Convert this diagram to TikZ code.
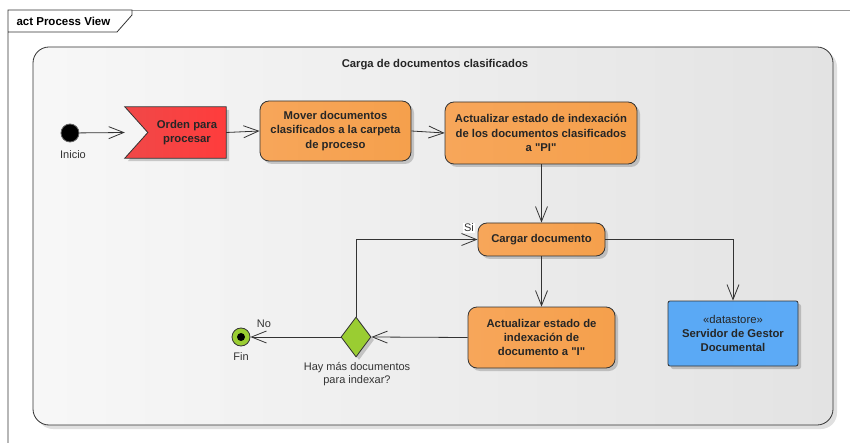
\documentclass[tikz,border=0pt]{standalone}
\usepackage{fontspec}
\setmainfont{Liberation Sans}
% same face without the TeX input mapping, so a straight double quote stays straight
\newfontfamily\plainquote{Liberation Sans}
\usetikzlibrary{arrows.meta,shapes.geometric,shadows,calc}

\definecolor{edge}{HTML}{333333}
\definecolor{orL}{HTML}{F7A65A}
\definecolor{orM}{HTML}{FBC893}
\definecolor{orR}{HTML}{F5A04C}
\definecolor{rdL}{HTML}{F04848}
\definecolor{rdM}{HTML}{FF7272}
\definecolor{rdR}{HTML}{FF3C3C}
\definecolor{blL}{HTML}{5AA9F5}
\definecolor{blM}{HTML}{A3D0FC}
\definecolor{blR}{HTML}{5CAAF6}
\definecolor{grnfill}{HTML}{9ACD32}

\newcommand{\dq}{{\plainquote\char34}}

\tikzset{
  x=1pt, y=-1pt,
  boldtxt/.style={font=\fontsize{11.3}{14.3}\selectfont\bfseries, align=center, text=black!85},
  plaintxt/.style={font=\fontsize{11}{13.5}\selectfont, align=center, text=black!80},
  softshadow/.style={drop shadow={shadow xshift=3pt, shadow yshift=-3pt, opacity=0.18, fill=black}},
  actionbox/.style={boldtxt, draw=edge, line width=0.8pt, rounded corners=9pt,
    left color=orL, middle color=orM, right color=orR, softshadow, inner sep=0pt},
  storebox/.style={boldtxt, draw=edge, line width=0.8pt, rounded corners=2pt,
    left color=blL, middle color=blM, right color=blR, softshadow, inner sep=0pt},
  flow/.style={draw=edge, line width=0.8pt, -{Straight Barb[length=15pt,width=12pt,line width=0.8pt]}},
}

\begin{document}
\begin{tikzpicture}
\useasboundingbox (0,0) rectangle (850,443);
\fill[white] (0,0) rectangle (850,443);

% diagram frame with its name tab
\draw[draw=gray!80, line width=0.8pt] (132,10) -- (850,10);
\draw[draw=edge, line width=0.8pt] (8,443) -- (8,10) -- (132,10) -- (132,15) -- (117,32) -- (8,32);
\node[anchor=west, font=\fontsize{11.5}{13}\selectfont\bfseries] (frametitle) at (13,21) {act Process View};

% activity region
\path[fill=black, opacity=0.12, rounded corners=16pt] (37,51) rectangle (837,429);
\path[left color=white!97!black, right color=black!11, draw=edge, line width=0.8pt, rounded corners=16pt]
  (33,47) rectangle (833,425);
\node[boldtxt] (regiontitle) at (435,65) {Carga de documentos clasificados};

% initial node
\node[circle, fill=black, draw=black!60, line width=0.8pt, minimum size=18pt, inner sep=0pt] (ini) at (70,133) {};
\node[plaintxt] (inilbl) at (73,155) {Inicio};

% signal receipt: outline drawn around the node's box, notch on the left
\node[minimum width=101pt, minimum height=51pt, inner sep=0pt] (orden) at (175.5,132.5) {};
\path[left color=rdL, middle color=rdM, right color=rdR, draw=edge, line width=0.8pt, softshadow]
  (orden.north west) -- (orden.north east) -- (orden.south east) -- (orden.south west)
  -- ($(orden.west)+(23,0)$) -- cycle;
\node[boldtxt] (ordentxt) at (187,132.5) {Orden para\\procesar};

% actions
\node[actionbox, minimum width=151pt, minimum height=60pt] (mover) at (335.5,131)
  {Mover documentos\\clasificados a la carpeta\\de proceso};
\node[actionbox, minimum width=192pt, minimum height=62pt] (actpi) at (541,133)
  {Actualizar estado de indexación\\de los documentos clasificados\\a \dq PI\dq};
\node[actionbox, minimum width=127pt, minimum height=33pt] (cargar) at (541.5,239.5)
  {Cargar documento};
\node[actionbox, minimum width=147pt, minimum height=61pt] (acti) at (541.5,337.5)
  {Actualizar estado de\\indexación de\\documento a \dq I\dq};

% datastore
\node[storebox, minimum width=130pt, minimum height=65pt] (ds) at (733,333.5)
  {{\mdseries «datastore»}\\Servidor de Gestor\\Documental};

% decision
\node[diamond, draw=edge, line width=0.8pt, fill=grnfill, minimum width=30pt, minimum height=40pt,
  inner sep=0pt, softshadow] (dec) at (356,337) {};
\node[plaintxt] (declbl) at (357,374) {Hay más documentos\\para indexar?};

% final node
\node[circle, fill=grnfill, draw=edge, line width=0.8pt, minimum size=18pt, inner sep=0pt] (fin) at (241,337) {};
\node[circle, fill=black, minimum size=8pt, inner sep=0pt] (fincore) at (fin.center) {};
\node[plaintxt] (finlbl) at (241,357) {Fin};

% flows
\draw[flow] (ini) -- (orden.west);
\draw[flow] (orden.east) -- (mover.west);
\draw[flow] (mover.east) -- (actpi.west);
\draw[flow] (actpi.south -| cargar.north) -- (cargar.north);
\draw[flow] (cargar.south) -- (acti.north);
\draw[flow] (cargar.east) -| (ds.north);
\draw[flow] (acti.west) -- (dec.east);
\draw[flow] (dec.west) -- (fin);
\draw[flow] (dec.north) |- (cargar.west);

\node[plaintxt, fill=white, inner sep=1pt] (silbl) at (469,228) {Si};
\node[plaintxt, inner sep=1pt] (nolbl) at (264,324) {No};
\end{tikzpicture}
\end{document}
